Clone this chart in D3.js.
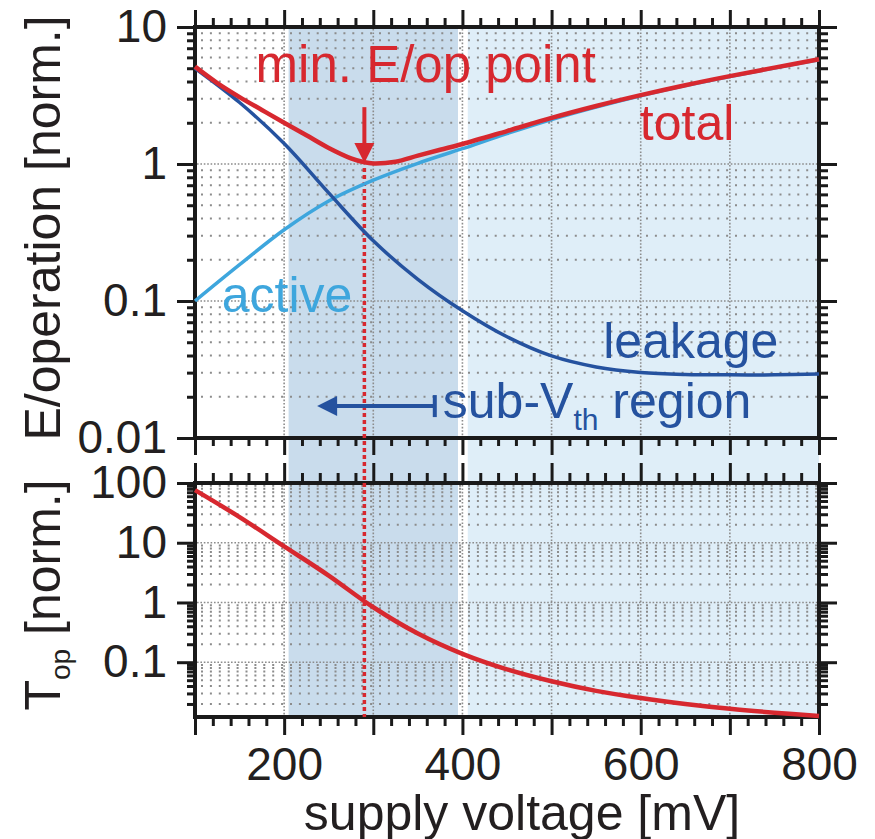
<!DOCTYPE html>
<html>
<head>
<meta charset="utf-8">
<script src="https://cdnjs.cloudflare.com/ajax/libs/d3/7.8.5/d3.min.js"></script>
<style>
    body { margin: 0; background: #fff; }
    svg text { font-family: "Liberation Sans", Arial, sans-serif; }
</style>
</head>
<body>
<div id="chart"></div>
<script>
// values
var voltage  = [100, 150, 200, 250, 300, 350, 400, 450, 500, 550, 600, 650, 700, 750, 800];
var eActive  = [0.100, 0.184, 0.331, 0.537, 0.762, 1.012, 1.294, 1.667, 2.113, 2.606, 3.148, 3.733, 4.355, 5.023, 5.754];
var eLeakage = [5.0, 2.81, 1.41, 0.615, 0.275, 0.144, 0.0849, 0.0548, 0.0397, 0.033, 0.0301, 0.0291, 0.0289, 0.0289, 0.0293];

var totalVoltage = [100, 125, 150, 175, 200, 225, 250, 275, 290, 300, 325, 350, 375, 400, 450, 500, 550, 600, 650, 700, 750, 800];
var eTotal       = [5.14, 3.9, 3.08, 2.48, 2.0, 1.62, 1.31, 1.1, 1.03, 1.01, 1.04, 1.15, 1.27, 1.4, 1.74, 2.17, 2.65, 3.18, 3.76, 4.38, 5.05, 5.82];

var tVoltage = [100, 150, 200, 250, 300, 350, 400, 450, 500, 550, 600, 650, 700, 750, 800];
var tOp      = [75.9, 26.9, 8.71, 2.82, 0.832, 0.302, 0.138, 0.0759, 0.0479, 0.0331, 0.0251, 0.02, 0.0166, 0.0143, 0.0126];

var minPoint = [290, 1.0];
var shadeRanges = [[205, 395], [406, 800]];

var xTickLabels = [200, 400, 600, 800];
var eTickLabels = [10, 1, 0.1, 0.01];
var tTickLabels = [100, 10, 1, 0.1];

var red = "#d7282f", darkBlue = "#25529f", lightBlue = "#3ea6dd";
var shadeColors = ["#c9dcec", "#dfeef8"];

var svg = d3.select("#chart").append("svg").attr("width", 875).attr("height", 839);

var x = d3.scaleLinear().domain([100, 800]).range([195, 819]);
var yE = d3.scaleLog().domain([0.01, 10]).range([438, 27]);
var yT = d3.scaleLog().domain([0.0121, 100]).range([717, 483]);

var xMajor = d3.range(100, 801, 100);
var xMinor = d3.range(120, 800, 20).filter(function (d) { return d % 100 != 0; });

function logMinors(scale) {
    var dom = scale.domain(), out = [];
    var lo = Math.floor(Math.log10(dom[0])), hi = Math.ceil(Math.log10(dom[1]));
    for (var e = lo; e < hi; e++) {
        for (var k = 2; k <= 9; k++) {
            var v = k * Math.pow(10, e);
            if (v >= dom[0] && v <= dom[1]) out.push(v);
        }
    }
    return out;
}
function logMajors(scale) {
    var dom = scale.domain(), out = [];
    for (var e = Math.ceil(Math.log10(dom[0]) - 1e-9); e <= Math.floor(Math.log10(dom[1]) + 1e-9); e++) out.push(Math.pow(10, e));
    return out;
}

// shaded voltage bands, through both panels
svg.append("g").selectAll("rect").data(shadeRanges).enter().append("rect")
    .attr("x", function (d) { return x(d[0]); })
    .attr("width", function (d) { return x(d[1]) - x(d[0]); })
    .attr("y", 29).attr("height", 717 - 29)
    .attr("fill", function (d, i) { return shadeColors[i]; });

function drawGrid(yScale) {
    var g = svg.append("g").attr("stroke", "#8c8c8c").attr("fill", "none");
    var y0 = yScale.range()[1], y1 = yScale.range()[0];
    g.selectAll(".hmin").data(logMinors(yScale)).enter().append("line")
        .attr("x1", 201).attr("x2", 817)
        .attr("y1", function (d) { return yScale(d); }).attr("y2", function (d) { return yScale(d); })
        .attr("stroke-width", 2).attr("stroke-dasharray", "2,6.9");
    var inner = logMajors(yScale).filter(function (d) { return yScale(d) > y0 + 3 && yScale(d) < y1 - 3; });
    g.selectAll(".hmaj").data(inner).enter().append("line")
        .attr("x1", 197).attr("x2", 817)
        .attr("y1", function (d) { return yScale(d); }).attr("y2", function (d) { return yScale(d); })
        .attr("stroke-width", 1.6).attr("stroke-dasharray", "1.6,1.8");
    g.selectAll(".vmaj").data(xMajor.slice(1, -1)).enter().append("line")
        .attr("x1", function (d) { return x(d); }).attr("x2", function (d) { return x(d); })
        .attr("y1", y0 + 2).attr("y2", y1 - 2)
        .attr("stroke-width", 1.6).attr("stroke-dasharray", "1.6,1.8");
}
drawGrid(yE);
drawGrid(yT);

// axes: ticks point outward on all four sides
function drawAxis(axisFn, scale, transform, majors, minors, labels, majLen, minLen, pad) {
    var gMin = svg.append("g").attr("transform", transform)
        .call(axisFn(scale).tickValues(minors).tickSize(minLen).tickSizeOuter(0).tickFormat(""));
    var gMaj = svg.append("g").attr("transform", transform)
        .call(axisFn(scale).tickValues(majors).tickSize(majLen).tickSizeOuter(0).tickPadding(pad)
            .tickFormat(function (d) { return labels && labels.indexOf(d) >= 0 ? String(d) : ""; }));
    [gMin, gMaj].forEach(function (g) {
        g.select(".domain").remove();
        g.selectAll(".tick line").attr("stroke", "#1a1a1a").attr("stroke-width", 3);
        g.selectAll(".tick text").attr("fill", "#231f20").style("font-size", "46px");
    });
}

// top panel
drawAxis(d3.axisTop, x, "translate(0,27)", xMajor, xMinor, null, 17, 9, 4);
drawAxis(d3.axisBottom, x, "translate(0,438)", xMajor, xMinor, null, 17, 8, 4);
drawAxis(d3.axisLeft, yE, "translate(195,0)", logMajors(yE), logMinors(yE), eTickLabels, 18, 8, 10);
drawAxis(d3.axisRight, yE, "translate(819,0)", logMajors(yE), logMinors(yE), null, 18, 9, 4);
// bottom panel
drawAxis(d3.axisTop, x, "translate(0,483)", xMajor, xMinor, null, 20, 10, 4);
drawAxis(d3.axisBottom, x, "translate(0,717)", xMajor, xMinor, xTickLabels, 18, 9, 12);
drawAxis(d3.axisLeft, yT, "translate(195,0)", logMajors(yT), logMinors(yT), tTickLabels, 18, 8, 10);
drawAxis(d3.axisRight, yT, "translate(819,0)", logMajors(yT), logMinors(yT), null, 18, 9, 4);

// frames
[[27, 438], [483, 717]].forEach(function (r) {
    svg.append("rect").attr("x", 195).attr("y", r[0]).attr("width", 819 - 195).attr("height", r[1] - r[0])
        .attr("fill", "none").attr("stroke", "#1a1a1a").attr("stroke-width", 4);
});

// red dotted line at the minimum energy point
svg.append("line")
    .attr("x1", x(minPoint[0])).attr("x2", x(minPoint[0]))
    .attr("y1", yE(minPoint[1]) + 4).attr("y2", 717)
    .attr("stroke", red).attr("stroke-width", 3.5).attr("stroke-dasharray", "4,3");

// curves
var lineE = d3.line().curve(d3.curveCatmullRom.alpha(0.5))
    .x(function (d) { return x(d[0]); }).y(function (d) { return yE(d[1]); });
var lineT = d3.line().curve(d3.curveCatmullRom.alpha(0.5))
    .x(function (d) { return x(d[0]); }).y(function (d) { return yT(d[1]); });

svg.append("path").datum(d3.zip(voltage, eActive)).attr("d", lineE)
    .attr("fill", "none").attr("stroke", lightBlue).attr("stroke-width", 3.5);
svg.append("path").datum(d3.zip(voltage, eLeakage)).attr("d", lineE)
    .attr("fill", "none").attr("stroke", darkBlue).attr("stroke-width", 3.5);
svg.append("path").datum(d3.zip(totalVoltage, eTotal)).attr("d", lineE)
    .attr("fill", "none").attr("stroke", red).attr("stroke-width", 4.5);
svg.append("path").datum(d3.zip(tVoltage, tOp)).attr("d", lineT)
    .attr("fill", "none").attr("stroke", red).attr("stroke-width", 4.5);

// red arrow pointing to the minimum
var ax = x(minPoint[0]), tip = yE(minPoint[1]) - 1;
svg.append("line").attr("x1", ax).attr("x2", ax).attr("y1", yE(2.6)).attr("y2", tip - 15)
    .attr("stroke", red).attr("stroke-width", 4);
svg.append("path").attr("d", "M" + (ax - 10) + "," + (tip - 20) + "L" + (ax + 10) + "," + (tip - 20) + "L" + ax + "," + tip + "Z")
    .attr("fill", red);

// blue |<- arrow for the sub-threshold region
var ay = yE(0.0171), aStart = x(369), aTip = x(237);
svg.append("line").attr("x1", aStart).attr("x2", aTip + 16).attr("y1", ay).attr("y2", ay)
    .attr("stroke", darkBlue).attr("stroke-width", 4);
svg.append("line").attr("x1", aStart).attr("x2", aStart).attr("y1", ay - 11).attr("y2", ay + 11)
    .attr("stroke", darkBlue).attr("stroke-width", 4);
svg.append("path").attr("d", "M" + aTip + "," + ay + "L" + (aTip + 20) + "," + (ay - 10) + "L" + (aTip + 20) + "," + (ay + 10) + "Z")
    .attr("fill", darkBlue);

// labels in the plot
function note(txt, vx, vy, color) {
    return svg.append("text").attr("x", x(vx)).attr("y", yE(vy)).attr("fill", color)
        .style("font-size", "50px").text(txt);
}
note("min. E/op point", 168, 3.97, red).style("font-size", "51px");
note("total", 599, 1.5, red);
note("active", 130, 0.083, lightBlue);
note("leakage", 558, 0.0382, darkBlue);
var sub = note("sub-V", 378, 0.014, darkBlue);
sub.append("tspan").attr("dy", 12).style("font-size", "30px").text("th");
sub.append("tspan").attr("dy", -12).text(" region");

// axis titles
svg.append("text").attr("transform", "translate(60,228) rotate(-90)").attr("text-anchor", "middle")
    .attr("fill", "#231f20").style("font-size", "50px").text("E/operation [norm.]");
var tTitle = svg.append("text").attr("transform", "translate(60,595) rotate(-90)").attr("text-anchor", "middle")
    .attr("fill", "#231f20").style("font-size", "50px");
tTitle.append("tspan").text("T");
tTitle.append("tspan").attr("dy", 10).style("font-size", "28px").text("op");
tTitle.append("tspan").attr("dy", -10).text(" [norm.]");

svg.append("text").attr("x", 522).attr("y", 830).attr("text-anchor", "middle")
    .attr("fill", "#231f20").style("font-size", "50px").text("supply voltage [mV]");
</script>
</body>
</html>
